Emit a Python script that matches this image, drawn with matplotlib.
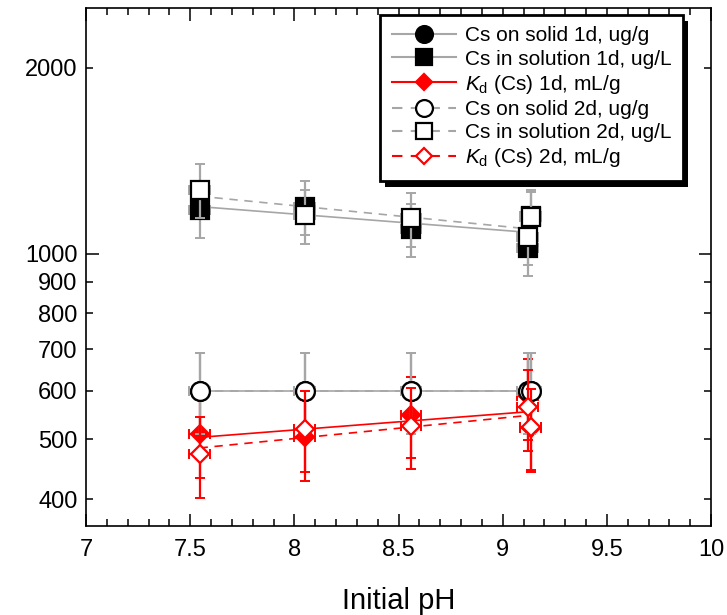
import numpy as np
import matplotlib
matplotlib.use("Agg")
import matplotlib.pyplot as plt
from matplotlib.lines import Line2D
from matplotlib.patches import Rectangle
from matplotlib.ticker import FixedLocator, FuncFormatter, MultipleLocator

plt.rcParams["font.family"] = ["Liberation Sans", "DejaVu Sans"]
plt.rcParams["mathtext.fontset"] = "custom"
plt.rcParams["mathtext.rm"] = "Liberation Sans"
plt.rcParams["mathtext.it"] = "Liberation Sans:italic"

# Initial pH of each batch (day 1 and day 2)
ph_1d = [7.545, 8.05, 8.56, 9.12, 9.135]
ph_2d = [7.545, 8.05, 8.56, 9.12, 9.135]

# Cs sorbed on solid, ug/g
cs_solid_1d = [600, 600, 600, 600, 600]
cs_solid_2d = [600, 600, 600, 600, 600]

# Cs remaining in solution, ug/L
cs_soln_1d = [1178, 1190, 1096, 1021, 1152]
cs_soln_2d = [1269, 1153, 1141, 1063, 1145]

# Distribution coefficient Kd, mL/g
kd_1d = [510, 504, 548, 588, 521]
kd_2d = [473, 520, 526, 564, 524]

# Relative uncertainties and pH uncertainty
rel_err_solid = 0.15
rel_err_soln = 0.10
rel_err_kd = 0.15
ph_err = 0.05

labels = [
    "Cs on solid 1d, ug/g",
    "Cs in solution 1d, ug/L",
    r"$\mathit{K}_{\mathrm{d}}$ (Cs) 1d, mL/g",
    "Cs on solid 2d, ug/g",
    "Cs in solution 2d, ug/L",
    r"$\mathit{K}_{\mathrm{d}}$ (Cs) 2d, mL/g",
]

GRAY = "#a6a6a6"
RED = "#ff0000"
DASH = (0, (5, 4))

series = [
    # x, y, rel err, marker, face, edge, line color, line style, err color, size
    (ph_1d, cs_solid_1d, rel_err_solid, "o", "black", "black", GRAY, "-", GRAY, 13.5),
    (ph_1d, cs_soln_1d, rel_err_soln, "s", "black", "black", GRAY, "-", GRAY, 13.5),
    (ph_1d, kd_1d, rel_err_kd, "D", RED, RED, RED, "-", RED, 9.5),
    (ph_2d, cs_solid_2d, rel_err_solid, "o", "white", "black", GRAY, DASH, GRAY, 13.5),
    (ph_2d, cs_soln_2d, rel_err_soln, "s", "white", "black", GRAY, DASH, GRAY, 13.5),
    (ph_2d, kd_2d, rel_err_kd, "D", "white", RED, RED, DASH, RED, 9.5),
]

fig = plt.figure(figsize=(7.27, 6.15), dpi=100)
ax = fig.add_axes([0.1183, 0.1447, 0.978 - 0.1183, 0.987 - 0.1447])

handles = []
for i, (x, y, rel, mk, fc, ec, lc, ls, errc, ms) in enumerate(series):
    x = np.asarray(x, float)
    y = np.asarray(y, float)
    # exponential trend (straight line on the log axis)
    slope, icpt = np.polyfit(x, np.log10(y), 1)
    xf = np.linspace(x.min(), x.max(), 50)
    ax.plot(xf, 10 ** (icpt + slope * xf), color=lc, ls=ls, lw=1.2, zorder=1.5)

    z = 2 + i * 0.2
    ax.errorbar(x, y, yerr=rel * y, xerr=ph_err, fmt="none", ecolor=errc,
                elinewidth=1.6, capsize=3.5, capthick=1.4, zorder=z)
    ax.plot(x, y, ls="none", marker=mk, ms=ms, mfc=fc, mec=ec, mew=1.6,
            zorder=z + 0.1)
    handles.append(Line2D([], [], color=lc, ls=ls, lw=1.5, marker=mk,
                          ms=ms * 0.9, mfc=fc, mec=ec, mew=1.6))

ax.set_yscale("log")
ax.set_xlim(7, 10)
ax.set_ylim(362, 2500)

ax.xaxis.set_major_locator(MultipleLocator(0.5))
ax.xaxis.set_minor_locator(MultipleLocator(0.1))
ax.xaxis.set_major_formatter(FuncFormatter(lambda v, p: f"{v:g}"))

ax.yaxis.set_major_locator(FixedLocator([1000]))
ax.yaxis.set_minor_locator(FixedLocator([400, 500, 600, 700, 800, 900, 2000]))
ax.yaxis.set_major_formatter(FuncFormatter(lambda v, p: f"{v:g}"))
ax.yaxis.set_minor_formatter(FuncFormatter(lambda v, p: f"{v:g}"))

ax.tick_params(which="both", direction="in", top=True, right=True,
               labelsize=17, width=1.1, color="black")
ax.tick_params(which="major", length=9)
ax.tick_params(which="minor", length=5)
ax.tick_params(axis="y", which="both", pad=6)
ax.tick_params(axis="x", which="both", pad=9)
for sp in ax.spines.values():
    sp.set_linewidth(1.2)

ax.set_xlabel("Initial pH", fontsize=21, labelpad=19)

leg = ax.legend(handles, labels, loc="upper right",
                bbox_to_anchor=(0.955, 0.9865), fontsize=15,
                fancybox=False, framealpha=1, edgecolor="black",
                handlelength=3.1, handletextpad=0.4, labelspacing=0.2,
                borderpad=0.55, borderaxespad=0)
leg.get_frame().set_linewidth(2.0)
leg.set_zorder(10)

# solid drop shadow behind the legend box
fig.canvas.draw()
bb = leg.get_window_extent()
shadow = Rectangle((bb.x0 + 5, bb.y0 - 6), bb.width, bb.height,
                   transform=None, facecolor="black", edgecolor="none",
                   zorder=9.9, clip_on=False)
ax.add_patch(shadow)

fig.savefig("out.png", dpi=100)
